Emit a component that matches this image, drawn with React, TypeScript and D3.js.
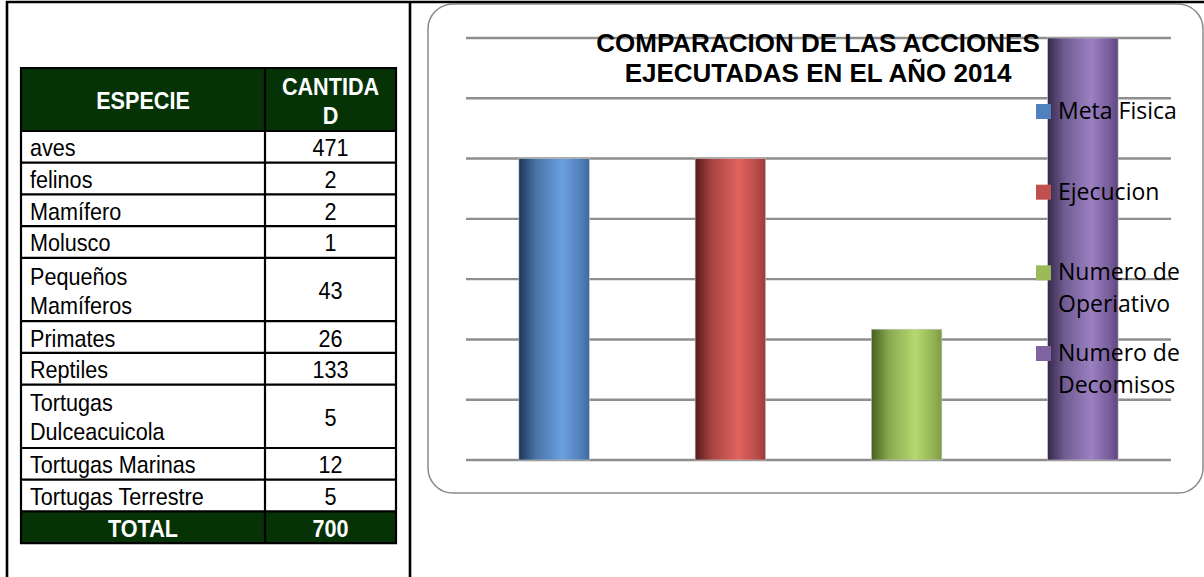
import React, { useEffect, useRef } from "react";
import * as d3 from "d3";

// table data
const especies: string[][] = [
  ["aves"],
  ["felinos"],
  ["Mamífero"],
  ["Molusco"],
  ["Pequeños", "Mamíferos"],
  ["Primates"],
  ["Reptiles"],
  ["Tortugas", "Dulceacuicola"],
  ["Tortugas Marinas"],
  ["Tortugas Terrestre"],
];
const cantidades = [471, 2, 2, 1, 43, 26, 133, 5, 12, 5];
const encabezado: string[][] = [["ESPECIE"], ["CANTIDA", "D"]];

// chart data
const series = ["Meta Fisica", "Ejecucion", "Numero de Operativo", "Numero de Decomisos"];
const leyenda: string[][] = [["Meta Fisica"], ["Ejecucion"], ["Numero de", "Operiativo"], ["Numero de", "Decomisos"]];
const valores = [500, 500, 217, 700];
const yTicks = [0, 100, 200, 300, 400, 500, 600, 700];
const titulo = ["COMPARACION DE LAS ACCIONES", "EJECUTADAS EN EL AÑO 2014"];

// cylinder-ish colors: [dark edge, light, right edge, legend]
const colores = [
  ["#1d3557", "#6a9fdf", "#40699e", "#4f81bd"],
  ["#561c1c", "#e2625f", "#9c3b3a", "#c0504d"],
  ["#46601f", "#b6d870", "#7e9a3f", "#9bbb59"],
  ["#35284c", "#9b80c2", "#5f467d", "#8064a2"],
];

const GREEN = "#053305";

function MakeSvg(ref: React.MutableRefObject<HTMLDivElement | null>) {
  d3.select(ref.current).selectAll("*").remove();
  const svg = d3
    .select(ref.current)
    .append("svg")
    .attr("width", 1204)
    .attr("height", 577)
    .style("position", "absolute")
    .style("left", 0)
    .style("top", 0)
    .style("background", "#fff");

  //============================
  // left: species table
  const tLeft = 21;
  const tSplit = 265;
  const tRight = 396;
  const headTop = 68;
  const headBottom = 131;
  const unit = 31.7;
  const lineGap = 29;
  const sx = 0.9;
  const font = "'Liberation Sans', Arial, sans-serif";
  const colCenter = [(tLeft + tSplit) / 2, (tSplit + tRight) / 2];

  const units = especies.map((d) => d.length);
  const tops: number[] = [];
  let acc = 0;
  units.forEach((u) => {
    tops.push(acc);
    acc += u;
  });
  const yUnit = d3.scaleLinear().domain([0, acc + 1]).range([headBottom, headBottom + (acc + 1) * unit]);
  const totalTop = yUnit(acc);
  const tBottom = yUnit(acc + 1);

  const g = svg.append("g");
  g.append("rect").attr("x", tLeft).attr("y", headTop).attr("width", tRight - tLeft).attr("height", headBottom - headTop).attr("fill", GREEN);
  g.append("rect").attr("x", tLeft).attr("y", totalTop).attr("width", tRight - tLeft).attr("height", tBottom - totalTop).attr("fill", GREEN);

  const cellText = (
    lines: string[],
    x: number,
    yTop: number,
    yBot: number,
    anchor: string,
    bold: boolean,
    color: string
  ) => {
    const c = (yTop + yBot) / 2;
    lines.forEach((t, k) => {
      const by = c + 9.5 + (k - (lines.length - 1) / 2) * lineGap;
      g.append("text")
        .attr("transform", `translate(${x},${by}) scale(${sx},1)`)
        .attr("text-anchor", anchor)
        .style("font-family", font)
        .style("font-size", "24px")
        .style("font-weight", bold ? "bold" : "normal")
        .style("fill", color)
        .text(t);
    });
  };

  encabezado.forEach((lines, i) => cellText(lines, colCenter[i], headTop, headBottom, "middle", true, "#fff"));
  especies.forEach((lines, i) => {
    const y0 = yUnit(tops[i]);
    const y1 = yUnit(tops[i] + units[i]);
    cellText(lines, tLeft + 9, y0, y1, "start", false, "#000");
    cellText([String(cantidades[i])], colCenter[1], y0, y1, "middle", false, "#000");
  });
  cellText(["TOTAL"], colCenter[0], totalTop, tBottom, "middle", true, "#fff");
  cellText([String(d3.sum(cantidades))], colCenter[1], totalTop, tBottom, "middle", true, "#fff");

  // grid lines of table
  const hLines = [headTop, headBottom, ...tops.slice(1).map((t) => yUnit(t)), totalTop, tBottom];
  g.selectAll("line.h")
    .data(hLines)
    .enter()
    .append("line")
    .attr("x1", tLeft - 1)
    .attr("x2", tRight + 1)
    .attr("y1", (d) => d)
    .attr("y2", (d) => d)
    .attr("stroke", "#000")
    .attr("stroke-width", 2.2);
  g.selectAll("line.v")
    .data([tLeft, tSplit, tRight])
    .enter()
    .append("line")
    .attr("x1", (d) => d)
    .attr("x2", (d) => d)
    .attr("y1", headTop - 1)
    .attr("y2", tBottom + 1)
    .attr("stroke", "#000")
    .attr("stroke-width", 2.2);

  //============================
  // right: bar chart in rounded box
  svg
    .append("rect")
    .attr("x", 428)
    .attr("y", 4)
    .attr("width", 775)
    .attr("height", 489)
    .attr("rx", 25)
    .attr("fill", "#fff")
    .attr("stroke", "#8a8a8a")
    .attr("stroke-width", 1.5);

  const xScale = d3.scaleBand<string>().domain(series).range([466, 1171]).paddingInner(0.6).paddingOuter(0.3);
  const yScale = d3.scaleLinear().domain([0, 700]).range([460, 38]);

  const defs = svg.append("defs");
  colores.forEach((c, i) => {
    const lg = defs.append("linearGradient").attr("id", `cyl${i}`).attr("x1", 0).attr("x2", 1).attr("y1", 0).attr("y2", 0);
    lg.append("stop").attr("offset", "0%").attr("stop-color", c[0]);
    lg.append("stop").attr("offset", "25%").attr("stop-color", d3.interpolateRgb(c[0], c[1])(0.6));
    lg.append("stop").attr("offset", "62%").attr("stop-color", c[1]);
    lg.append("stop").attr("offset", "88%").attr("stop-color", d3.interpolateRgb(c[1], c[2])(0.6));
    lg.append("stop").attr("offset", "100%").attr("stop-color", c[2]);
  });

  svg
    .append("g")
    .selectAll("line")
    .data(yTicks)
    .enter()
    .append("line")
    .attr("x1", 466)
    .attr("x2", 1171)
    .attr("y1", (d) => yScale(d))
    .attr("y2", (d) => yScale(d))
    .attr("stroke", "#8e8e8e")
    .attr("stroke-width", 2.4);

  svg
    .append("g")
    .selectAll("rect")
    .data(valores)
    .enter()
    .append("rect")
    .attr("x", (d, i) => xScale(series[i]) as number)
    .attr("y", (d) => yScale(d))
    .attr("width", xScale.bandwidth())
    .attr("height", (d) => yScale(0) - yScale(d))
    .attr("fill", (d, i) => `url(#cyl${i})`)
    .attr("stroke", "#c8c8c8")
    .attr("stroke-width", 0.6);

  // title
  titulo.forEach((t, i) => {
    svg
      .append("text")
      .attr("x", 818)
      .attr("y", 52 + i * 30)
      .attr("text-anchor", "middle")
      .style("font-family", font)
      .style("font-size", "26px")
      .style("font-weight", "bold")
      .style("fill", "#000")
      .text(t);
  });

  // legend
  const legendY = d3.scaleLinear().domain([0, 3]).range([119, 361]);
  leyenda.forEach((lines, i) => {
    const by = legendY(i);
    svg.append("rect").attr("x", 1036).attr("y", by - 15).attr("width", 15).attr("height", 15).attr("fill", colores[i][3]);
    lines.forEach((t, k) => {
      svg
        .append("text")
        .attr("x", 1058)
        .attr("y", by + k * 32)
        .style("font-family", "'Open Sans', sans-serif")
        .style("font-size", "23px")
        .style("fill", "#000")
        .text(t);
    });
  });

  //============================
  // page borders
  const border = svg.append("g").attr("stroke", "#000").attr("stroke-width", 2.6);
  border.append("line").attr("x1", 6).attr("x2", 1204).attr("y1", 2).attr("y2", 2);
  border.append("line").attr("x1", 7).attr("x2", 7).attr("y1", 1).attr("y2", 577);
  border.append("line").attr("x1", 410).attr("x2", 410).attr("y1", 1).attr("y2", 577);
}

const App = () => {
  const ref = useRef<HTMLDivElement | null>(null);
  useEffect(() => {
    MakeSvg(ref);
  }, []);
  return <div ref={ref} />;
};

export default App;
